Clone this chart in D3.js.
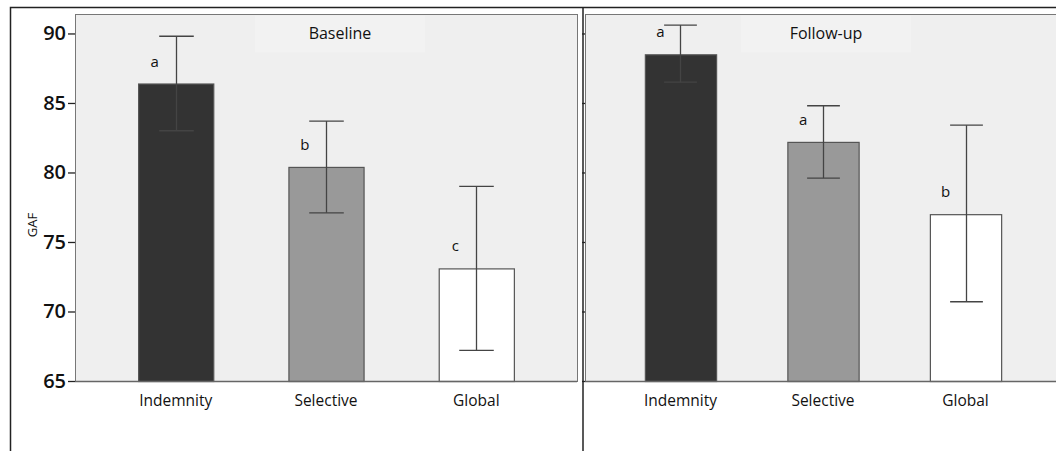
<!DOCTYPE html>
<html>
<head>
<meta charset="utf-8">
<script src="https://cdn.jsdelivr.net/npm/d3@7"></script>
<style>
  body { margin: 0; background: #fff; }
  svg { display: block; font-family: "Open Sans", "DejaVu Sans", sans-serif; }
</style>
</head>
<body>
<div id="chart"></div>
<script>
// data
const categories = ["Indemnity", "Selective", "Global"];
const panelTitles = ["Baseline", "Follow-up"];
const baselineMean = [86.4, 80.4, 73.1];
const baselineLow = [83.0, 77.1, 67.2];
const baselineHigh = [89.8, 83.7, 79.0];
const baselineLetters = ["a", "b", "c"];
const followMean = [88.5, 82.2, 77.0];
const followLow = [86.5, 79.6, 70.7];
const followHigh = [90.6, 84.8, 83.4];
const followLetters = ["a", "a", "b"];
const yTicks = [65, 70, 75, 80, 85, 90];
const yLabel = "GAF";

const width = 1056, height = 451;
const fills = ["#333333", "#999999", "#ffffff"];

const svg = d3.select("#chart").append("svg")
    .attr("width", width)
    .attr("height", height);

// outer frame + divider
svg.append("path")
    .attr("d", `M10.5,${height} V7.5 H${width}`)
    .attr("fill", "none").attr("stroke", "#222").attr("stroke-width", 1.5);
svg.append("line")
    .attr("x1", 583).attr("x2", 583).attr("y1", 7.5).attr("y2", height)
    .attr("stroke", "#222").attr("stroke-width", 1.5);

const y = d3.scaleLinear().domain([65, 91.4]).range([381, 14]);

const panels = [
    {title: panelTitles[0], mean: baselineMean, low: baselineLow, high: baselineHigh, letters: baselineLetters,
     x0: 75, x1: 577, titleDx: 14, labels: true},
    {title: panelTitles[1], mean: followMean, low: followLow, high: followHigh, letters: followLetters,
     x0: 585, x1: 1061, titleDx: 3, labels: false}
];

panels.forEach(p => {
    const x = d3.scaleBand()
        .domain(categories)
        .range([p.x0, p.x1])
        .paddingInner(0.5)
        .paddingOuter(0.42);
    const g = svg.append("g");

    // plot background
    g.append("rect")
        .attr("x", p.x0 + 0.5).attr("y", y.range()[1] + 0.5)
        .attr("width", p.x1 - p.x0).attr("height", y.range()[0] - y.range()[1])
        .attr("fill", "#efefef").attr("stroke", "#777").attr("stroke-width", 1);

    // title box
    const tc = x(categories[1]) + x.bandwidth() / 2 + p.titleDx;
    g.append("rect")
        .attr("x", tc - 85).attr("y", y.range()[1] + 1.5)
        .attr("width", 170).attr("height", 37)
        .attr("fill", "#f2f2f2");
    g.append("text")
        .attr("x", tc).attr("y", 39)
        .attr("text-anchor", "middle")
        .attr("font-size", 16).attr("fill", "#111")
        .text(p.title);

    // y axis
    const yAxis = d3.axisLeft(y)
        .tickValues(yTicks)
        .tickSizeInner(p.labels ? 7 : 3)
        .tickSizeOuter(0)
        .tickPadding(2)
        .tickFormat(p.labels ? d3.format("d") : "");
    const ya = g.append("g")
        .attr("transform", `translate(${p.x0},0)`)
        .call(yAxis);
    ya.select(".domain").remove();
    ya.selectAll(".tick line").attr("stroke", "#222").attr("stroke-width", 1.3);
    ya.selectAll(".tick text").attr("font-size", 20).attr("fill", "#111")
        .attr("font-weight", 600)
        .attr("font-family", "'Open Sans', sans-serif");

    // bars
    const rows = categories.map((c, i) => ({c, i, m: p.mean[i], lo: p.low[i], hi: p.high[i], l: p.letters[i]}));
    g.selectAll(".bar").data(rows).join("rect")
        .attr("class", "bar")
        .attr("x", d => x(d.c) + 0.5)
        .attr("y", d => y(d.m) + 0.5)
        .attr("width", x.bandwidth())
        .attr("height", d => y(65) - y(d.m))
        .attr("fill", d => fills[d.i])
        .attr("stroke", "#555").attr("stroke-width", 1.2);

    // bottom axis line
    g.append("line")
        .attr("x1", p.x0).attr("x2", p.x1)
        .attr("y1", y(65) + 0.5).attr("y2", y(65) + 0.5)
        .attr("stroke", "#666").attr("stroke-width", 1.5);

    // error bars
    const cap = x.bandwidth() * 0.23;
    const eb = g.selectAll(".err").data(rows).join("g")
        .attr("class", "err")
        .attr("transform", d => `translate(${Math.round(x(d.c) + x.bandwidth() / 2) + 0.5},0)`)
        .attr("stroke", "#444").attr("stroke-width", 1.3);
    eb.append("line").attr("y1", d => y(d.lo)).attr("y2", d => y(d.hi));
    eb.append("line").attr("x1", -cap).attr("x2", cap).attr("y1", d => y(d.hi)).attr("y2", d => y(d.hi));
    eb.append("line").attr("x1", -cap).attr("x2", cap).attr("y1", d => y(d.lo)).attr("y2", d => y(d.lo));

    // significance letters
    g.selectAll(".letter").data(rows).join("text")
        .attr("class", "letter")
        .attr("x", d => x(d.c) + x.bandwidth() * 0.22)
        .attr("y", d => y(d.m) - 17)
        .attr("text-anchor", "middle")
        .attr("font-size", 15).attr("fill", "#111")
        .text(d => d.l);

    // category labels
    g.selectAll(".cat").data(categories).join("text")
        .attr("class", "cat")
        .attr("x", d => x(d) + x.bandwidth() / 2)
        .attr("y", 406)
        .attr("text-anchor", "middle")
        .attr("font-size", 15.5).attr("fill", "#111")
        .text(d => d);
});

svg.append("text")
    .attr("transform", "translate(37,225) rotate(-90)")
    .attr("text-anchor", "middle")
    .attr("font-size", 13).attr("fill", "#111")
    .text(yLabel);
</script>
</body>
</html>
